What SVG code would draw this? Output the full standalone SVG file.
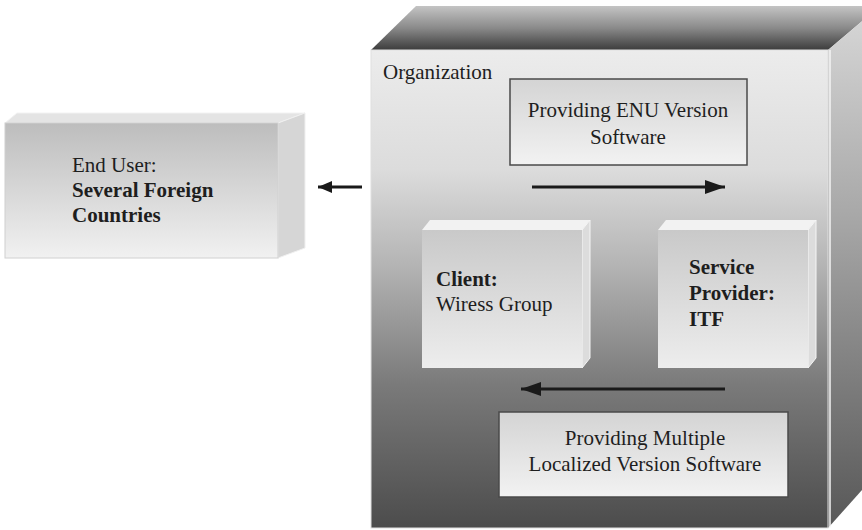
<svg xmlns="http://www.w3.org/2000/svg" width="862" height="530" viewBox="0 0 862 530">
<defs>
<linearGradient id="orgFront" x1="0" y1="0" x2="0" y2="1">
<stop offset="0" stop-color="#ececec"/>
<stop offset="0.25" stop-color="#dcdcdc"/>
<stop offset="0.45" stop-color="#b4b4b4"/>
<stop offset="0.7" stop-color="#7a7a7a"/>
<stop offset="1" stop-color="#4c4c4c"/>
</linearGradient>
<linearGradient id="orgTop" x1="0" y1="0" x2="0" y2="1">
<stop offset="0" stop-color="#c4c4c4"/>
<stop offset="0.5" stop-color="#8a8a8a"/>
<stop offset="1" stop-color="#3c3c3c"/>
</linearGradient>
<linearGradient id="orgSide" x1="0" y1="0" x2="0" y2="1">
<stop offset="0" stop-color="#d8d8d8"/>
<stop offset="0.4" stop-color="#a8a8a8"/>
<stop offset="1" stop-color="#575757"/>
</linearGradient>
<linearGradient id="boxFront" x1="0" y1="0" x2="0" y2="1">
<stop offset="0" stop-color="#c9c9c9"/>
<stop offset="1" stop-color="#ededed"/>
</linearGradient>
<linearGradient id="euFront" x1="0" y1="0" x2="0" y2="1">
<stop offset="0" stop-color="#bdbdbd"/>
<stop offset="1" stop-color="#f1f1f1"/>
</linearGradient>
<linearGradient id="panel" x1="0" y1="0" x2="0" y2="1">
<stop offset="0" stop-color="#d4d4d4"/>
<stop offset="1" stop-color="#f2f2f2"/>
</linearGradient>
<marker id="ah" viewBox="0 0 20 14" refX="20" refY="7" markerWidth="20" markerHeight="14" markerUnits="userSpaceOnUse" orient="auto">
<path d="M0,0 L20,7 L0,14 Z" fill="#1a1a1a"/>
</marker>
<marker id="ahs" viewBox="0 0 14 12" refX="14" refY="6" markerWidth="14" markerHeight="12" markerUnits="userSpaceOnUse" orient="auto">
<path d="M0,0 L14,6 L0,12 Z" fill="#1a1a1a"/>
</marker>
</defs>
<style>
text{font-family:"Liberation Serif","Times New Roman",serif;font-size:21px;fill:#1e1e1e}
.b{font-weight:bold}
.c{text-anchor:middle}
.ln{stroke:#1a1a1a;stroke-width:3;fill:none}
.pnl{fill:url(#panel);stroke:#4a4a4a;stroke-width:1.5}
</style>
<rect width="862" height="530" fill="#ffffff"/>

<g id="organization">
<polygon points="371,50 416,6 880,6 828,50" fill="url(#orgTop)"/>
<polygon points="828,50 880,6 880,470 828,528" fill="url(#orgSide)"/>
<line x1="830" y1="50" x2="830" y2="528" stroke="#f4f4f4" stroke-width="1.5"/>
<polygon points="830,528 862,492 862,500 836,528" fill="#ffffff"/>
<rect x="371" y="50" width="457" height="478" fill="url(#orgFront)" stroke="#e0e0e0" stroke-width="1"/>
<text x="383" y="79">Organization</text>
</g>

<g id="enu">
<rect class="pnl" x="510" y="79" width="237" height="86"/>
<text class="c" x="628" y="117">Providing ENU Version</text>
<text class="c" x="628" y="144">Software</text>
</g>

<g id="client">
<polygon points="422,230 430,220 590,220 582,230" fill="#f2f2f2"/>
<polygon points="582,230 590,220 590,358 582,368" fill="#dcdcdc" stroke="#f6f6f6" stroke-width="1"/>
<rect x="422" y="230" width="160" height="138" fill="url(#boxFront)"/>
<text class="b" x="436" y="286">Client:</text>
<text x="436" y="311">Wiress Group</text>
</g>

<g id="provider">
<polygon points="658,230 666,220 816,220 808,230" fill="#f2f2f2"/>
<polygon points="808,230 816,220 816,358 808,368" fill="#dcdcdc" stroke="#f6f6f6" stroke-width="1"/>
<rect x="658" y="230" width="150" height="138" fill="url(#boxFront)"/>
<text class="b" x="689" y="274">Service</text>
<text class="b" x="689" y="300">Provider:</text>
<text class="b" x="689" y="326">ITF</text>
</g>

<g id="multiple">
<rect class="pnl" x="499" y="412" width="289" height="85"/>
<text class="c" x="645" y="445">Providing Multiple</text>
<text class="c" x="645" y="471">Localized Version Software</text>
</g>

<g id="enduser">
<polygon points="5,123 17,113 305,113 278,123" fill="#e4e4e4" stroke="#f2f2f2" stroke-width="1"/>
<polygon points="278,123 305,113 305,248 278,258" fill="#d6d6d6" stroke="#f0f0f0" stroke-width="1"/>
<rect x="5" y="123" width="273" height="135" fill="url(#euFront)" stroke="#d0d0d0" stroke-width="1"/>
<text x="72" y="172">End User:</text>
<text class="b" x="72" y="197">Several Foreign</text>
<text class="b" x="72" y="222">Countries</text>
</g>

<g id="connectors">
<line class="ln" x1="362" y1="187" x2="318" y2="187" marker-end="url(#ahs)"/>
<line class="ln" x1="532" y1="187" x2="725" y2="187" marker-end="url(#ah)"/>
<line class="ln" x1="725" y1="389" x2="521" y2="389" marker-end="url(#ah)"/>
</g>
</svg>
